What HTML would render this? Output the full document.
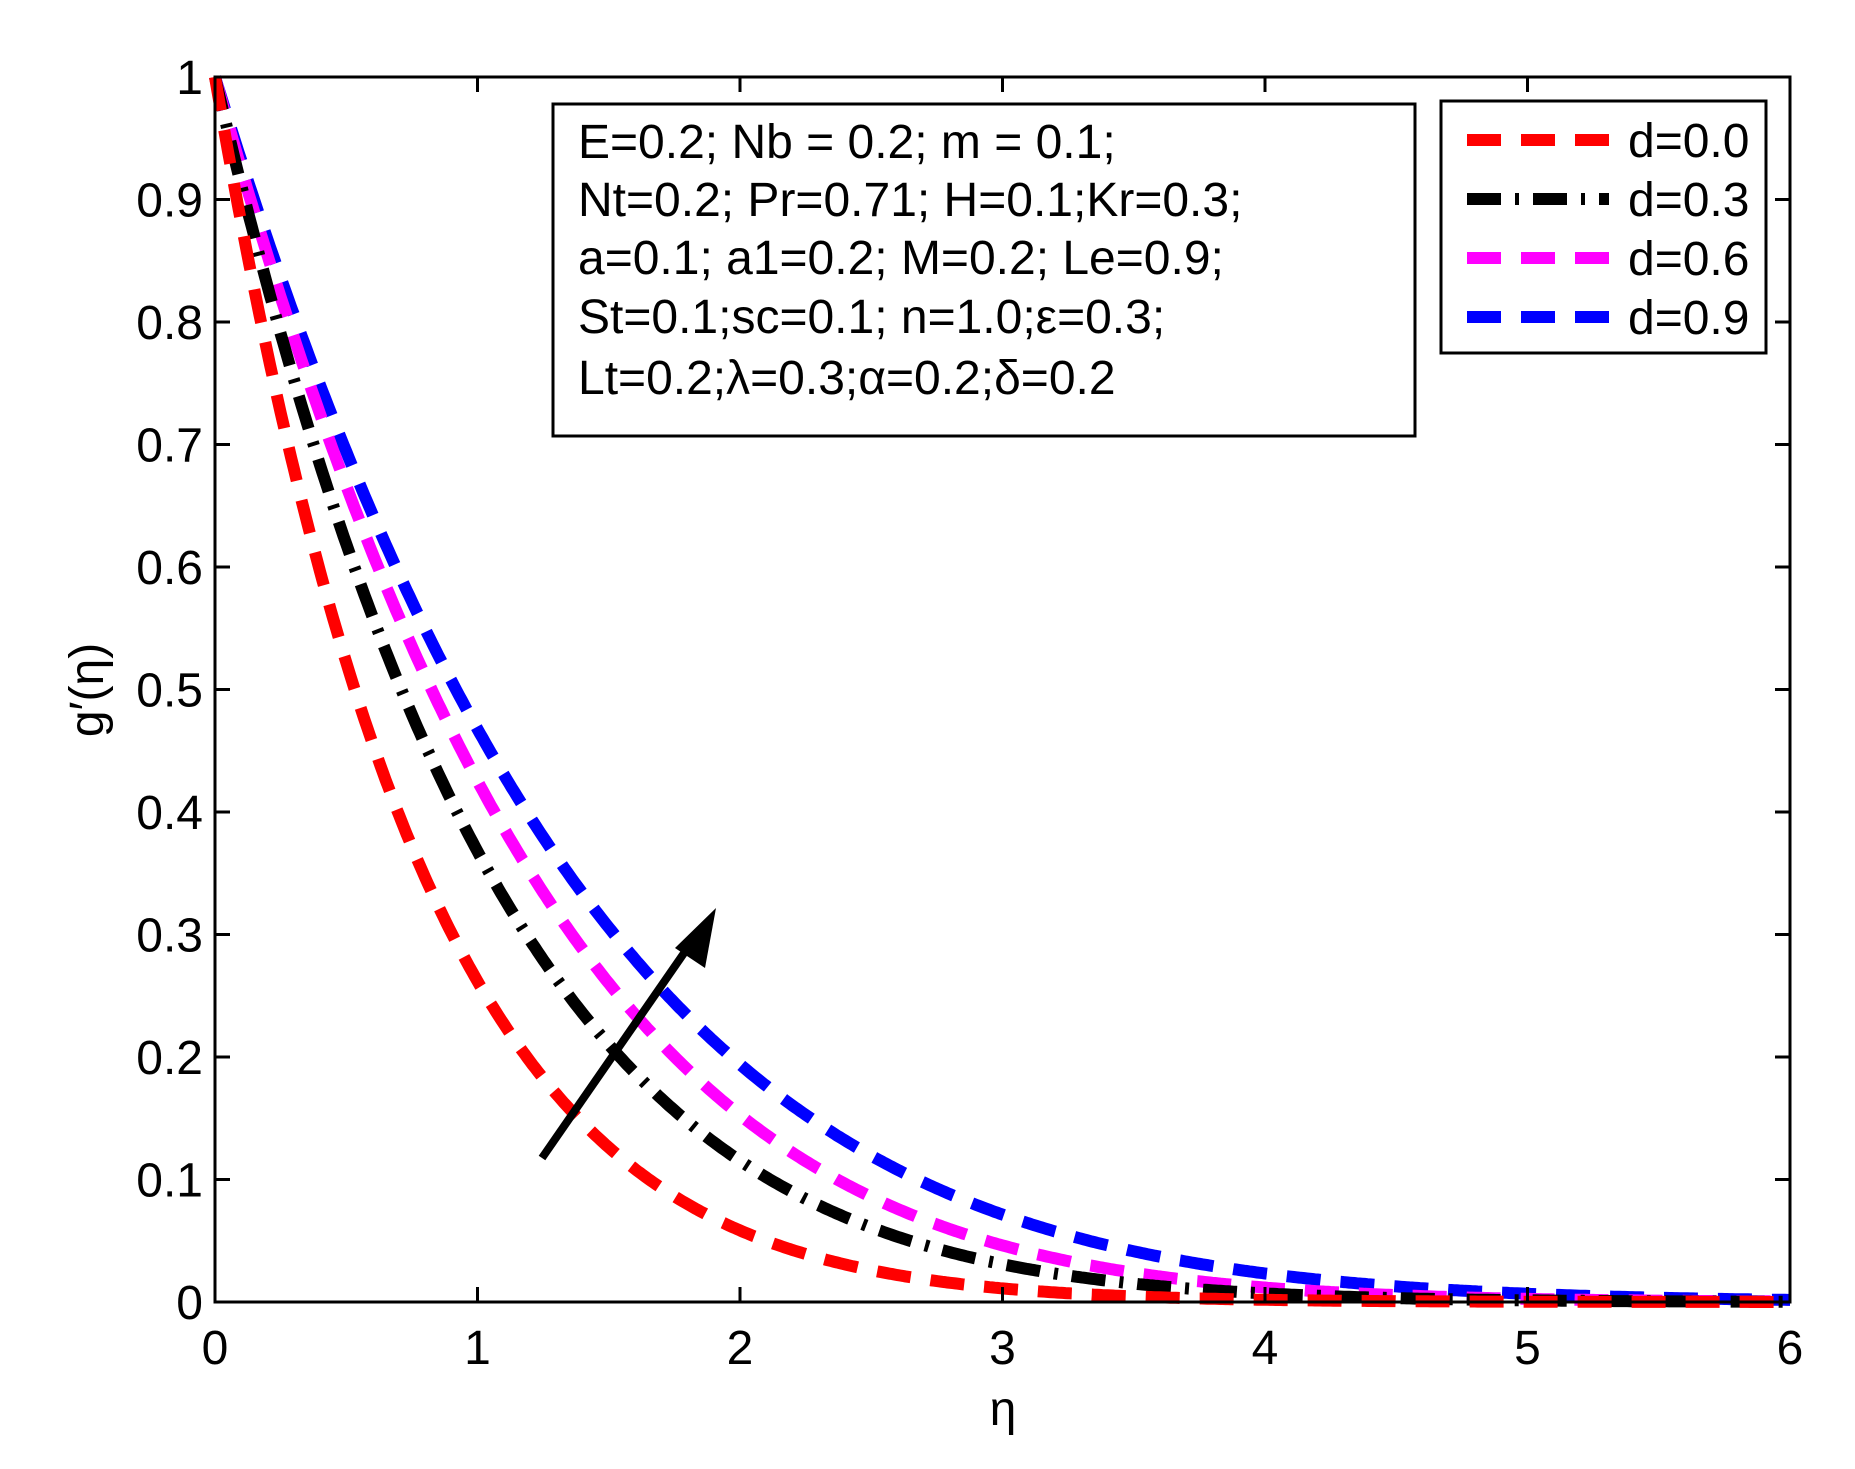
<!DOCTYPE html>
<html><head><meta charset="utf-8"><style>
html,body{margin:0;padding:0;background:#fff}
svg{display:block}
text{font-family:"Liberation Sans",sans-serif;fill:#000}
</style></head><body>
<svg id="s" width="1855" height="1469" viewBox="0 0 1855 1469" xmlns="http://www.w3.org/2000/svg">
<rect width="1855" height="1469" fill="#fff"/>
<g id="curves"></g>
<rect x="215" y="77" width="1575" height="1225" fill="none" stroke="#000" stroke-width="3"/>
<g id="ticks" stroke="#000" stroke-width="3"></g>
<g font-size="48" text-anchor="end" id="ylab"></g>
<g font-size="48" text-anchor="middle" id="xlab"></g>
<text x="1003" y="1425" font-size="48" text-anchor="middle">η</text>
<text transform="translate(103,690) rotate(-90)" font-size="48" text-anchor="middle">g′(η)</text>
<line x1="542" y1="1158" x2="700" y2="930" stroke="#000" stroke-width="8"/>
<polygon points="716,908 705,968 690,958 675,948" fill="#000"/>
<rect x="553" y="104" width="862" height="332" fill="#fff" stroke="#000" stroke-width="3"/>
<g font-size="48">
<text x="578" y="158">E=0.2; Nb = 0.2; m = 0.1;</text>
<text x="578" y="216">Nt=0.2; Pr=0.71; H=0.1;Kr=0.3;</text>
<text x="578" y="274">a=0.1;  a1=0.2; M=0.2; Le=0.9;</text>
<text x="578" y="333">St=0.1;sc=0.1; n=1.0;ε=0.3;</text>
<text x="578" y="394">Lt=0.2;λ=0.3;α=0.2;δ=0.2</text>
</g>
<rect x="1441" y="101" width="325" height="252" fill="#fff" stroke="#000" stroke-width="3"/>
<g stroke-width="12" fill="none">
<line x1="1467" y1="140" x2="1609" y2="140" stroke="#f00" stroke-dasharray="34,20"/>
<line x1="1467" y1="199" x2="1609" y2="199" stroke="#000" stroke-dasharray="34,14,4,14"/>
<line x1="1467" y1="258" x2="1609" y2="258" stroke="#f0f" stroke-dasharray="34,20"/>
<line x1="1467" y1="317" x2="1609" y2="317" stroke="#00f" stroke-dasharray="34,20"/>
</g>
<g font-size="48">
<text x="1628" y="157">d=0.0</text>
<text x="1628" y="216">d=0.3</text>
<text x="1628" y="275">d=0.6</text>
<text x="1628" y="334">d=0.9</text>
</g>
</svg>
<script>
(function(){
var NS="http://www.w3.org/2000/svg";
var L=215,R=1790,T=77,B=1302;
function X(e){return L+(R-L)*e/6}
function Y(v){return B-(B-T)*v}
var sets=[["#00f",0.7,0.06,"34,20"],["#f0f",0.77,0.085,"34,20"],["#000",0.92,0.08,"34,14,4,14"],["#f00",1.26,0.08,"34,20"]];
var g=document.getElementById("curves");
sets.forEach(function(s){
 var d="";
 for(var i=0;i<=600;i++){var e=i*0.01;var v=Math.exp(-s[1]*e-s[2]*e*e);d+=(i?"L":"M")+X(e).toFixed(1)+","+Y(v).toFixed(1);}
 var p=document.createElementNS(NS,"path");
 p.setAttribute("d",d);p.setAttribute("stroke",s[0]);p.setAttribute("stroke-width","12");
 p.setAttribute("fill","none");p.setAttribute("stroke-dasharray",s[3]);
 g.appendChild(p);
});
var tk=document.getElementById("ticks"),yl=document.getElementById("ylab"),xl=document.getElementById("xlab");
function ln(a,b,c,d){var l=document.createElementNS(NS,"line");l.setAttribute("x1",a);l.setAttribute("y1",b);l.setAttribute("x2",c);l.setAttribute("y2",d);tk.appendChild(l);}
function tx(p,x,y,t){var e=document.createElementNS(NS,"text");e.setAttribute("x",x);e.setAttribute("y",y);e.textContent=t;p.appendChild(e);}
for(var i=0;i<=10;i++){var y=Y(i/10);ln(L,y,L+15,y);ln(R,y,R-15,y);
 var t=i==0?"0":i==10?"1":"0."+i;tx(yl,203,y+17,t);}
for(var j=0;j<=6;j++){var x=X(j);ln(x,B,x,B-15);ln(x,T,x,T+15);tx(xl,x,1364,""+j);}
})();
</script>
</body></html>
